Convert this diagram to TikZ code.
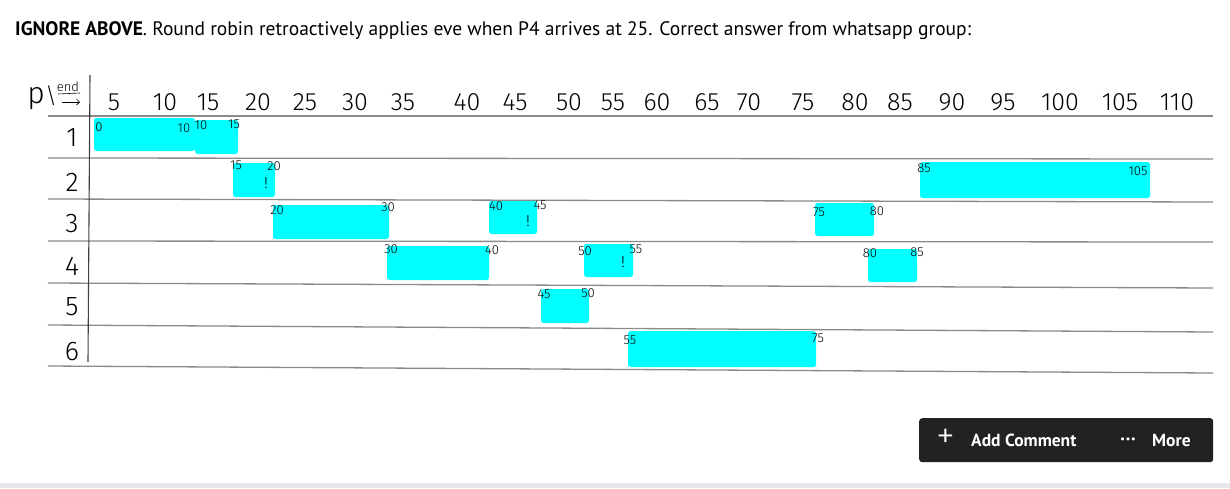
\documentclass[tikz,border=0pt]{standalone}
\usepackage{fontspec}
\usetikzlibrary{arrows.meta}
\setmainfont{PT Sans}
\newfontfamily\hand{Fira Sans}[UprightFont=* Light]
\definecolor{hl}{HTML}{00FFFF}
\definecolor{rulegray}{HTML}{8A8A8A}
\definecolor{btn}{HTML}{222222}
\definecolor{strip}{HTML}{E5E7EB}
\tikzset{
  big/.style={font=\hand\fontsize{25}{25}\selectfont, inner sep=0pt},
  rowlbl/.style={font=\hand\fontsize{27}{27}\selectfont, inner sep=0pt},
  lbl/.style={font=\hand\fontsize{13}{13}\selectfont, inner sep=0pt},
  bang/.style={font=\hand\fontsize{16}{16}\selectfont, inner sep=0pt},
  bar/.style={fill=hl, rounded corners=2.5pt},
  rule/.style={draw=rulegray, line width=1.3pt},
  btntext/.style={font=\bfseries\fontsize{17.5}{17.5}\selectfont, text=white, inner sep=0pt, anchor=west}
}
\begin{document}
\begin{tikzpicture}[x=1pt,y=-1pt]
\useasboundingbox[fill=white] (0,0) rectangle (1230,488);
% title
\node[anchor=west, inner sep=0pt, font=\fontsize{19.5}{19.5}\selectfont] (title) at (15,31) {\textbf{IGNORE ABOVE}. Round robin retroactively applies eve when P4 arrives at 25. Correct answer from whatsapp group:};
% highlight bars
\fill[bar] (94,118) rectangle (195,151);
\fill[bar] (195,120) rectangle (238,154);
\fill[bar] (233,163) rectangle (275,197);
\fill[bar] (920,162) rectangle (1150,198);
\fill[bar] (273,205) rectangle (389,239);
\fill[bar] (489,201) rectangle (537,234);
\fill[bar] (815,203) rectangle (874,236);
\fill[bar] (387,246) rectangle (489,280);
\fill[bar] (584,244) rectangle (633,277);
\fill[bar] (868,249) rectangle (917,282);
\fill[bar] (541,289) rectangle (589,323);
\fill[bar] (628,331) rectangle (816,367);
% grid lines
\draw[rule] (48,116) -- (1213,116);
\draw[rule] (48,158) -- (1213,159);
\draw[rule] (48,199) -- (1213,202);
\draw[rule] (48,241) -- (1213,242);
\draw[rule] (48,283) -- (1213,288);
\draw[rule] (48,325) -- (1213,332);
\draw[rule] (48,366) -- (1213,373);
\draw[draw=black!75, line width=1.1pt] (90,75) -- (88,362);
% header corner
\node[font=\hand\fontsize{30}{30}\selectfont, inner sep=0pt] (p) at (36,99) {p};
\node[font=\hand\fontsize{22}{22}\selectfont, inner sep=0pt] (bs) at (51,96) {\textbackslash};
\node[font=\hand\fontsize{13}{13}\selectfont, inner sep=0pt] (end) at (68,87) {end};
\draw[line width=0.6pt] (58,94) -- (80,93);
\coordinate (arrS) at (62,102);
\coordinate (arrE) at (80,102);
\draw[line width=0.7pt, -{Straight Barb[length=3pt]}] (arrS) -- (arrE);
% column numbers
\foreach \v/\x in {5/114,10/165,15/208,20/258,25/305,30/355,35/403,40/467,45/515,50/569,55/613,60/657,65/707,70/749,75/803,80/855,85/900,90/952,95/1003,100/1060,105/1120,110/1177}
  \node[big] (c\v) at (\x,102) {\v};
% row numbers
\foreach \r/\y in {1/138,2/182,3/224,4/266,5/307,6/352}
  \node[rowlbl] (r\r) at (72,\y) {\r};
% small labels
\node[lbl] (a0) at (99,127) {0};
\node[lbl] (a1) at (184,128) {10};
\node[lbl] (a2) at (201,125) {10};
\node[lbl] (a3) at (234,124) {15};
\node[lbl] (b0) at (236,165) {15};
\node[lbl] (b1) at (274,166) {20};
\node[bang] (b2) at (266,183) {!};
\node[lbl] (b3) at (924,168) {85};
\node[lbl] (b4) at (1138,171) {105};
\node[lbl] (d0) at (277,210) {20};
\node[lbl] (d1) at (388,207) {30};
\node[lbl] (d2) at (496,206) {40};
\node[lbl] (d3) at (540,205) {45};
\node[bang] (d4) at (528,221) {!};
\node[lbl] (d5) at (819,212) {75};
\node[lbl] (d6) at (877,211) {80};
\node[lbl] (e0) at (391,249) {30};
\node[lbl] (e1) at (492,250) {40};
\node[lbl] (e2) at (585,251) {50};
\node[lbl] (e3) at (636,249) {55};
\node[bang] (e4) at (623,262) {!};
\node[lbl] (e5) at (870,253) {80};
\node[lbl] (e6) at (917,252) {85};
\node[lbl] (f0) at (544,294) {45};
\node[lbl] (f1) at (588,293) {50};
\node[lbl] (g0) at (630,340) {55};
\node[lbl] (g1) at (818,338) {75};
% button
\node[fill=btn, rounded corners=3pt, minimum width=294pt, minimum height=44pt, inner sep=0pt, anchor=north west] (btnbox) at (919,418) {};
\node[font=\hand\fontsize{38}{38}\selectfont, text=white, inner sep=0pt] (plus) at (946,439) {+};
\node[btntext] (add) at (971,440) {Add Comment};
\node[font=\bfseries\fontsize{10}{10}\selectfont, text=white, inner sep=0pt] (dots) at (1128,440) {\textbullet\kern0.8pt\textbullet\kern0.8pt\textbullet};
\node[btntext] (more) at (1152,440) {More};
% bottom strip
\fill[strip] (0,483) rectangle (1230,488);
\end{tikzpicture}
\end{document}
